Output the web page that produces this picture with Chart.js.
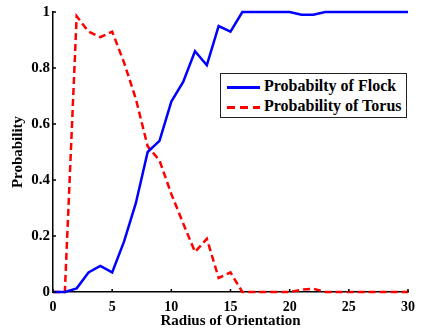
<!DOCTYPE html>
<html>
<head>
<meta charset="utf-8">
<script src="https://cdn.jsdelivr.net/npm/chart.js@4"></script>
<style>
  html, body { margin: 0; padding: 0; background: #fff; }
  #wrap { position: relative; width: 422px; height: 328px; }
  #legend {
    position: absolute; left: 220px; top: 73px; width: 185px; height: 43px;
    border: 1px solid #222; background: #fff;
    font: bold 16px "Liberation Serif", "DejaVu Serif", serif; color: #000;
  }
  .row { position: absolute; left: 6px; height: 20px; line-height: 20px; white-space: nowrap; }
  .sw { display: inline-block; width: 33px; height: 3px; vertical-align: middle; margin-right: 4px; }
</style>
</head>
<body>
<div id="wrap">
  <canvas id="ProbChart" width="422" height="328"></canvas>
  <div id="legend"></div>
</div>
<script>
const radius = [0,1,2,3,4,5,6,7,8,9,10,11,12,13,14,15,16,17,18,19,20,21,22,23,24,25,26,27,28,29,30];
const flock = [0,0,0.013,0.07,0.093,0.07,0.18,0.317,0.5,0.54,0.68,0.75,0.86,0.81,0.95,0.93,1,1,1,1,1,0.99,0.99,1,1,1,1,1,1,1,1];
const torus = [0,0,0.985,0.93,0.91,0.93,0.82,0.69,0.52,0.47,0.35,0.245,0.143,0.19,0.05,0.07,0,0,0,0,0,0.008,0.012,0,0,0,0,0,0,0,0];
const xTicks = [0,5,10,15,20,25,30];
const yTicks = [0,0.2,0.4,0.6,0.8,1];

const font = { family: '"Liberation Serif", "DejaVu Serif", serif', size: 15, weight: 'bold' };
const xFont = { family: '"Liberation Serif", "DejaVu Serif", serif', size: 14, weight: 'bold' };

// small tick marks pointing into the plot
const innerTicks = {
    id: 'innerTicks',
    afterDraw(chart) {
        const c = chart.ctx, x = chart.scales.x, y = chart.scales.y;
        c.save();
        c.strokeStyle = '#000';
        c.lineWidth = 1.5;
        c.beginPath();
        xTicks.forEach(v => {
            const px = x.getPixelForValue(v);
            c.moveTo(px, y.bottom); c.lineTo(px, y.bottom - 3);
        });
        yTicks.forEach(v => {
            const py = y.getPixelForValue(v);
            c.moveTo(x.left, py); c.lineTo(x.left + 3, py);
        });
        c.stroke();
        c.restore();
    }
};

const data = {
    datasets: [
        {
            label: 'Probabilty of Flock',
            data: radius.map((r, i) => ({ x: r, y: flock[i] })),
            borderColor: 'rgb(0, 0, 255)',
            borderWidth: 2.5,
            pointRadius: 0,
            tension: 0,
            clip: false
        },
        {
            label: 'Probability of Torus',
            data: radius.map((r, i) => ({ x: r, y: torus[i] })),
            borderColor: 'rgb(255, 0, 0)',
            borderWidth: 2.5,
            borderDash: [7, 4],
            pointRadius: 0,
            tension: 0,
            clip: false
        }
    ]
};

const config = {
    type: 'line',
    data: data,
    options: {
        responsive: false,
        animation: false,
        layout: { padding: { top: 11, right: 10, left: 0, bottom: 0 } },
        plugins: {
            legend: { display: false },
            tooltip: { enabled: false }
        },
        scales: {
            x: {
                type: 'linear',
                min: 0,
                max: 30,
                afterBuildTicks: s => { s.ticks = xTicks.map(v => ({ value: v })); },
                afterFit: s => { s.height = 36; },
                ticks: { font: xFont, color: '#000', padding: 7, maxRotation: 0 },
                grid: { display: false, drawTicks: false },
                border: { color: '#000', width: 1.5 },
                title: { display: true, text: 'Radius of Orientation', font: font, color: '#000', padding: { top: 0, bottom: -2 } }
            },
            y: {
                min: 0,
                max: 1,
                afterBuildTicks: s => { s.ticks = yTicks.map(v => ({ value: v })); },
                afterFit: s => { s.width = 53; },
                ticks: { font: font, color: '#000', padding: 3, callback: v => String(Math.round(v * 10) / 10) },
                grid: { display: false, drawTicks: false },
                border: { color: '#000', width: 1.5 },
                title: { display: true, text: 'Probability', font: font, color: '#000', padding: { top: 9, bottom: 0 } }
            }
        }
    },
    plugins: [innerTicks]
};

const ctx = document.getElementById('ProbChart');
const chart = new Chart(ctx, config);

// legend drawn as html box inside the plot
const legendBox = document.getElementById('legend');
chart.data.datasets.forEach((ds, i) => {
    const row = document.createElement('div');
    row.className = 'row';
    row.style.top = (2 + i * 20) + 'px';
    const sw = document.createElement('span');
    sw.className = 'sw';
    sw.style.background = ds.borderDash
        ? 'repeating-linear-gradient(to right, ' + ds.borderColor + ' 0 8px, transparent 8px 13px)'
        : ds.borderColor;
    row.appendChild(sw);
    row.appendChild(document.createTextNode(ds.label));
    legendBox.appendChild(row);
});
</script>
</body>
</html>
